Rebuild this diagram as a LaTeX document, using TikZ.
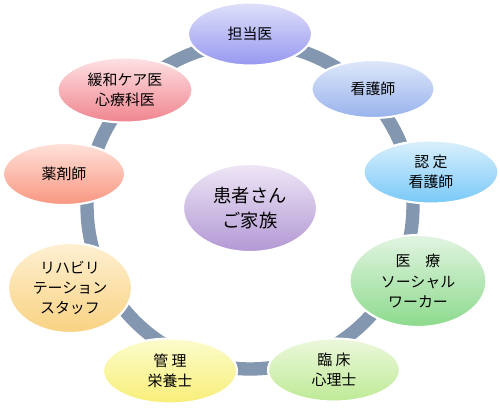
\documentclass[tikz,border=0pt]{standalone}
\usepackage{fontspec}
\setmainfont{Noto Sans CJK JP}
\usetikzlibrary{shapes.geometric}
\definecolor{ringc}{RGB}{132,151,176}
\tikzset{
  nd/.style={ellipse, draw=white, line width=1.2pt, inner sep=0pt, align=center,
    minimum width=2.5cm, minimum height=1.26cm,
    font=\fontsize{8.5}{11.5}\selectfont},
  ctr/.style={nd, minimum width=2.68cm, minimum height=1.76cm,
    font=\fontsize{10.4}{13.8}\selectfont},
  ring/.style={draw=ringc, line width=7.6pt}
}

\begin{document}
\begin{tikzpicture}[x=0.02cm,y=-0.02cm]
  \useasboundingbox (0,0) rectangle (500,407);

  % Ring behind everything
  \coordinate (mid) at (250,206);
  \draw[ring] (mid) circle[radius=3.26cm];

  % Center node
  \node[ctr, top color={rgb,255:red,238;green,230;blue,246}, bottom color={rgb,255:red,178;green,152;blue,212}] (pt) at (250,208) {患者さん\\ご家族};

  % Outer nodes, clockwise from the top
  \node[nd, minimum width=2.48cm, top color={rgb,255:red,224;green,224;blue,250}, bottom color={rgb,255:red,150;green,152;blue,240}] (dr) at (250,34) {担当医};
  \node[nd, minimum width=2.46cm, minimum height=1.16cm, top color={rgb,255:red,222;green,232;blue,250}, bottom color={rgb,255:red,152;green,178;blue,236}] (ns) at (373,89) {看護師};
  \node[nd, minimum width=2.7cm, top color={rgb,255:red,218;green,240;blue,252}, bottom color={rgb,255:red,120;green,200;blue,248}] (cn) at (431,172) {認 定\\看護師};
  \node[nd, minimum width=2.74cm, minimum height=1.84cm, top color={rgb,255:red,226;green,244;blue,226}, bottom color={rgb,255:red,140;green,218;blue,140}] (sw) at (418,281) {医　療\\ソーシャル\\ワーカー};
  \node[nd, minimum width=2.64cm, top color={rgb,255:red,236;green,248;blue,220}, bottom color={rgb,255:red,190;green,234;blue,150}] (cp) at (334,370) {臨 床\\心理士};
  \node[nd, minimum width=2.68cm, minimum height=1.3cm, top color={rgb,255:red,252;green,252;blue,204}, bottom color={rgb,255:red,248;green,238;blue,120}] (nt) at (170,371) {管 理\\栄養士};
  \node[nd, minimum width=2.48cm, minimum height=1.8cm, top color={rgb,255:red,255;green,240;blue,210}, bottom color={rgb,255:red,248;green,210;blue,130}] (rh) at (70,288) {リハビリ\\テーション\\スタッフ};
  \node[nd, minimum width=2.44cm, minimum height=1.24cm, top color={rgb,255:red,255;green,226;blue,218}, bottom color={rgb,255:red,248;green,150;blue,128}] (ph) at (64,174) {薬剤師};
  \node[nd, minimum width=2.7cm, minimum height=1.3cm, top color={rgb,255:red,253;green,226;blue,228}, bottom color={rgb,255:red,240;green,132;blue,142}] (pc) at (125,90) {緩和ケア医\\心療科医};
\end{tikzpicture}
\end{document}
